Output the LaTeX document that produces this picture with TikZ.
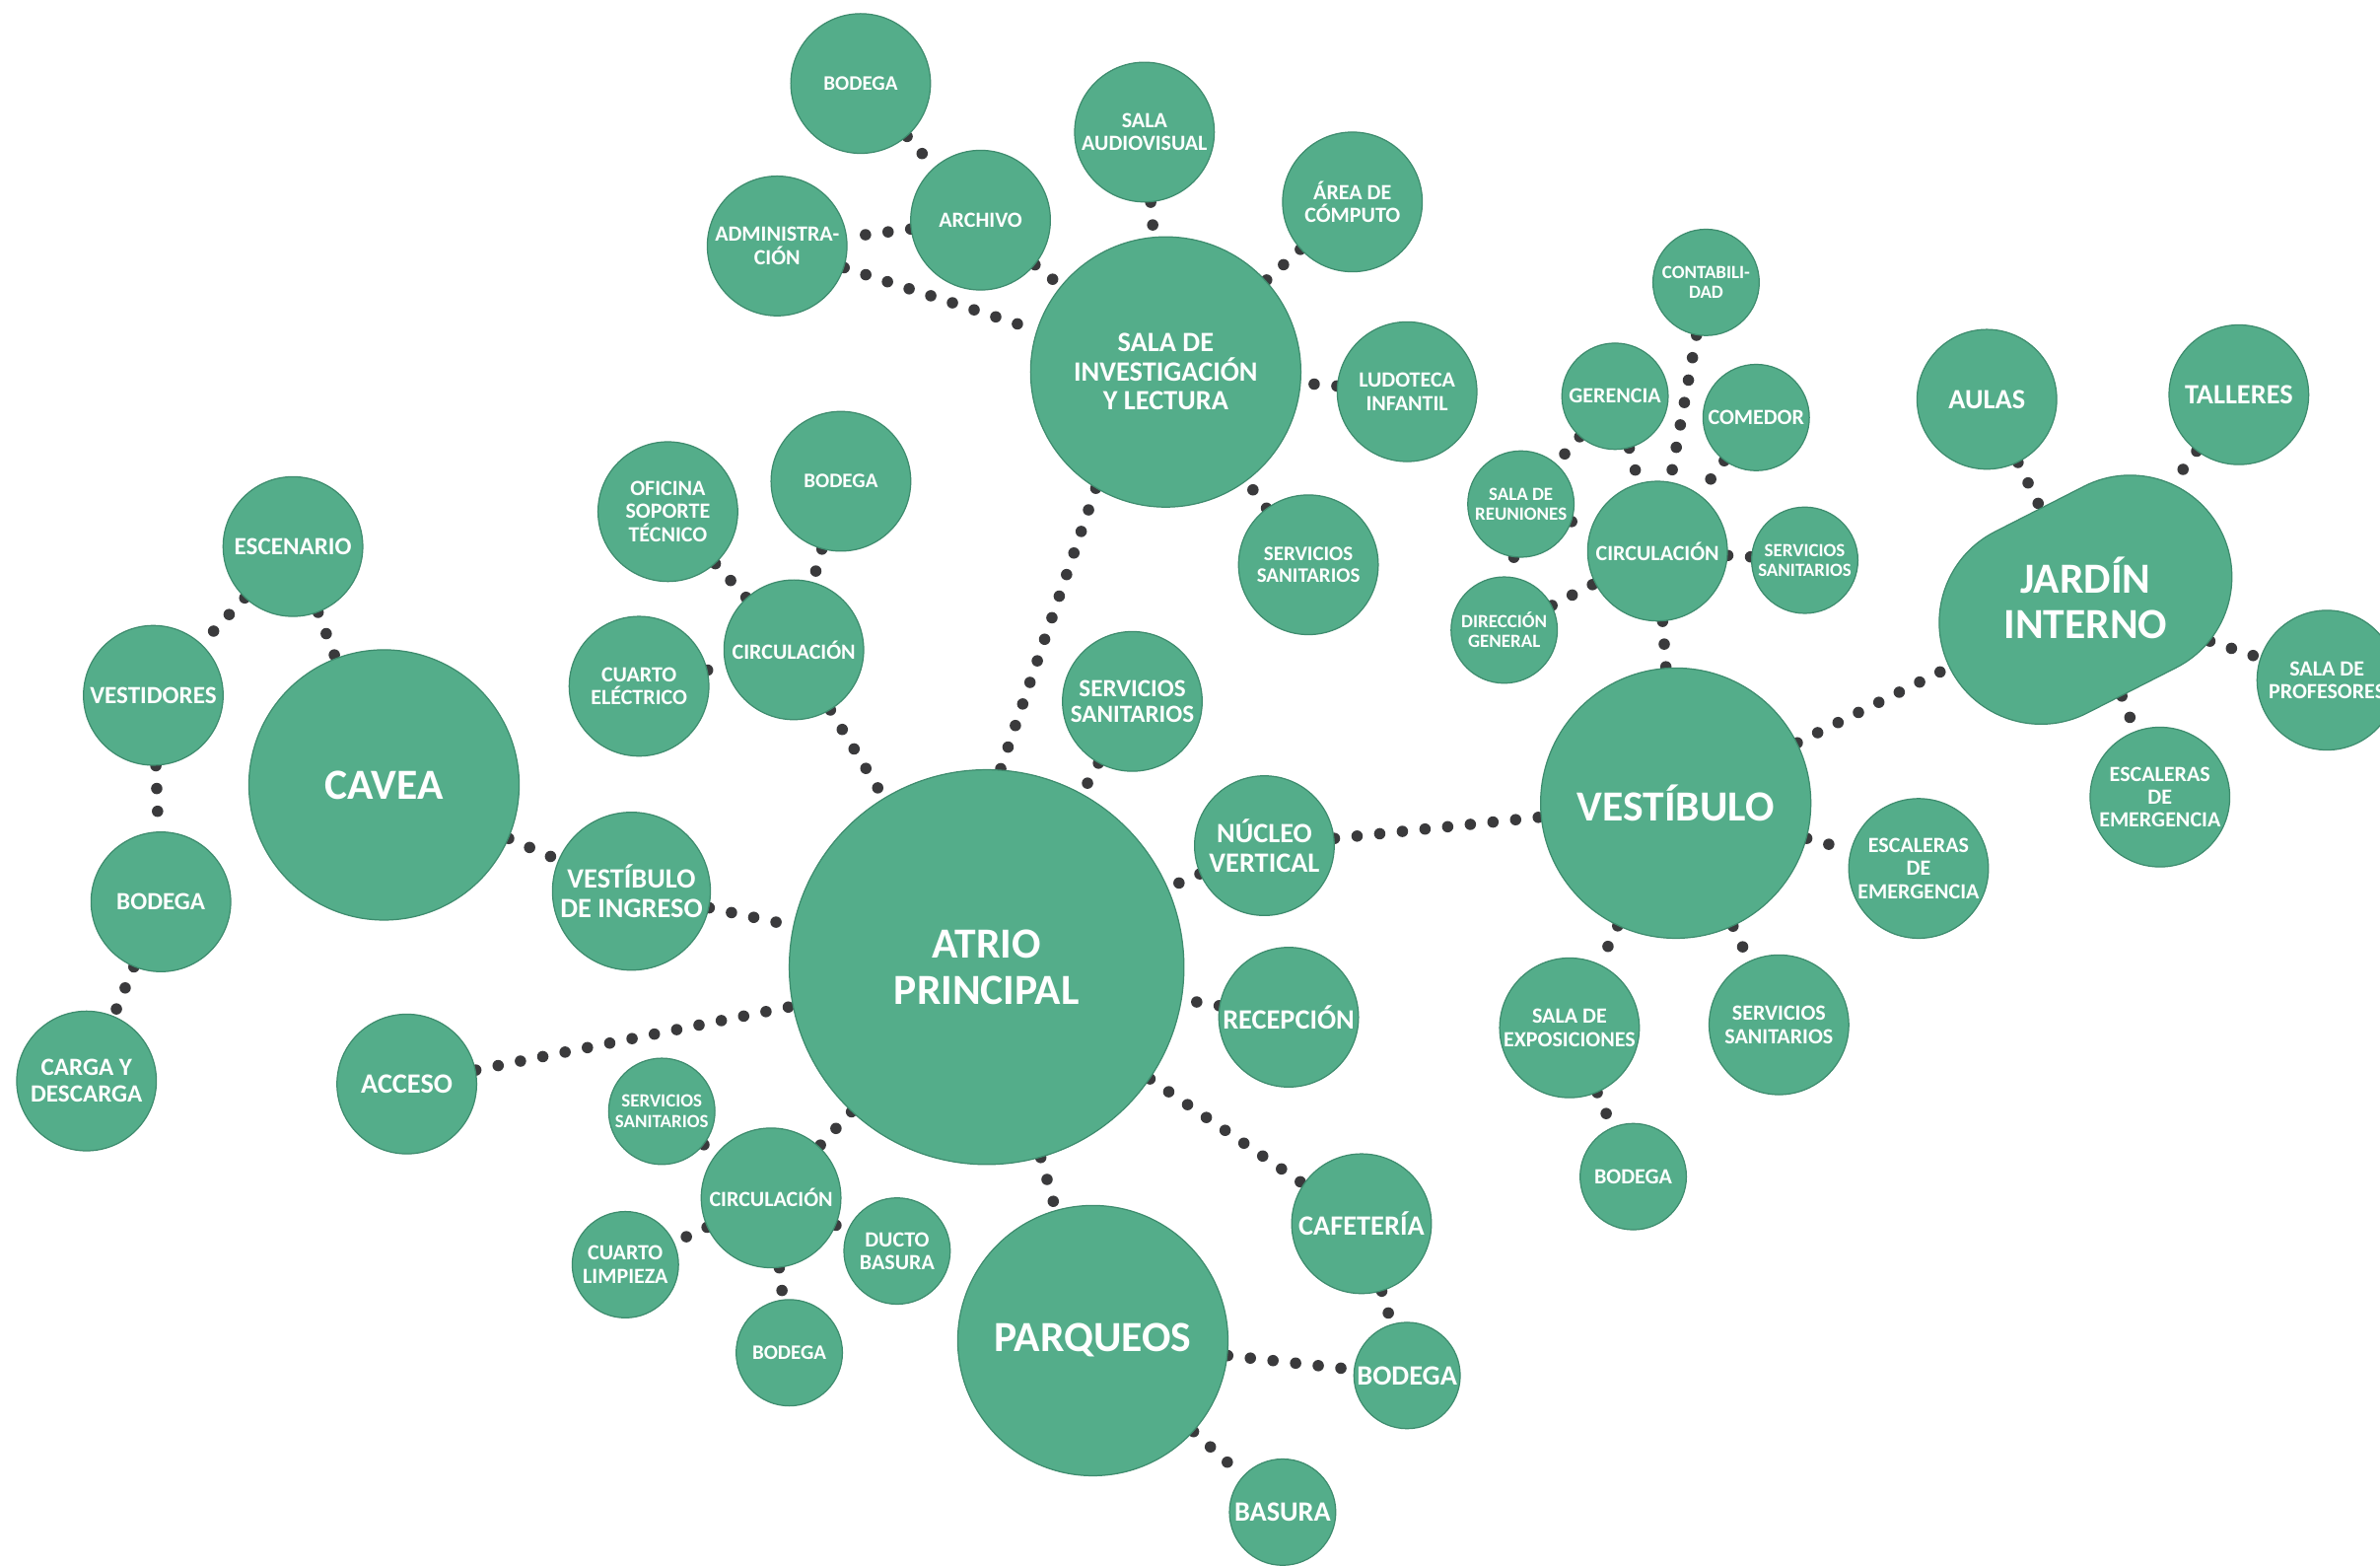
\documentclass[tikz,border=0pt]{standalone}
\usepackage{fontspec}
\setmainfont{Carlito}
\usetikzlibrary{shapes.misc,backgrounds}
\definecolor{bubfill}{RGB}{84,173,138}
\definecolor{bubedge}{RGB}{62,140,110}
\definecolor{dotc}{RGB}{58,58,60}
\tikzset{
  bub/.style={circle, fill=bubfill, draw=bubedge, line width=0.8pt, text=white, align=center, inner sep=0pt},
  rA/.style={bub, minimum size=70pt},
  rB/.style={bub, minimum size=92pt},
  rC/.style={bub, minimum size=104pt},
  rD/.style={bub, minimum size=178pt},
  rE/.style={bub, minimum size=260pt},
  fa/.style={font=\fontsize{12.3}{13.2}\selectfont\bfseries},
  fb/.style={font=\fontsize{13.6}{14.8}\selectfont\bfseries},
  fc/.style={font=\fontsize{14.3}{15.2}\selectfont\bfseries},
  fd/.style={font=\fontsize{16.3}{17.4}\selectfont\bfseries},
  fe/.style={font=\fontsize{18.4}{19.2}\selectfont\bfseries},
  ff/.style={font=\fontsize{28.3}{30}\selectfont\bfseries},
  link/.style={draw=dotc, line width=7.5pt, line cap=round, dash pattern=on 0pt off 15pt},
}
\begin{document}
\begin{tikzpicture}[x=1pt,y=-1pt]
\useasboundingbox (0,0) rectangle (1568,1031);
\clip (0,0) rectangle (1568,1031);
% upper cluster
\node[rB,fb] (bodA) at (567,55) {BODEGA};
\node[rB,fc] (aud) at (754,87) {SALA\\AUDIOVISUAL};
\node[rB,fc] (comp) at (891,133) {ÁREA DE\\CÓMPUTO};
\node[rB,fc] (arch) at (646,145) {ARCHIVO};
\node[rB,fc] (adm) at (512,162) {ADMINISTRA-\\CIÓN};
\node[rD,fe] (sala) at (768,245) {SALA DE\\INVESTIGACIÓN\\Y LECTURA};
\node[rB,fc] (ludo) at (927,258) {LUDOTECA\\INFANTIL};
\node[rB,fb] (ssA) at (862,372) {SERVICIOS\\SANITARIOS};
% left-middle cluster
\node[rB,fc] (ofi) at (440,337) {OFICINA\\SOPORTE\\TÉCNICO};
\node[rB,fb] (bodB) at (554,317) {BODEGA};
\node[rB,fc] (circA) at (523,428) {CIRCULACIÓN};
\node[rB,fc] (elec) at (421,452) {CUARTO\\ELÉCTRICO};
% cavea cluster
\node[rB,fd] (esc) at (193,360) {ESCENARIO};
\node[rB,fd] (vest) at (101,458) {VESTIDORES};
\node[rD,ff] (cavea) at (253,517) {CAVEA};
\node[rB,fd] (bodC) at (106,594) {BODEGA};
\node[rB,fd] (carga) at (57,712) {CARGA Y\\DESCARGA};
\node[rC,fe] (vding) at (416,587) {VESTÍBULO\\DE INGRESO};
\node[rB,fe] (acc) at (268,714) {ACCESO};
% atrio
\node[rE,ff, text depth=-8pt] (atrio) at (650,637) {ATRIO\\PRINCIPAL};
\node[rB,fd] (ssB) at (746,462) {SERVICIOS\\SANITARIOS};
\node[rB,fe] (nuc) at (833,557) {NÚCLEO\\VERTICAL};
\node[rB,fe] (rec) at (849,670) {RECEPCIÓN};
\node[rB,fe] (caf) at (897,806) {CAFETERÍA};
\node[rA,fe] (bodD) at (927,906) {BODEGA};
\node[rD,ff] (parq) at (720,883) {PARQUEOS};
\node[rA,fe] (bas) at (845,996) {BASURA};
\node[rA,fa] (ssC) at (436,732) {SERVICIOS\\SANITARIOS};
\node[rB,fc] (circB) at (508,789) {CIRCULACIÓN};
\node[rA,fc] (ducto) at (591,824) {DUCTO\\BASURA};
\node[rA,fc] (limp) at (412,833) {CUARTO\\LIMPIEZA};
\node[rA,fb] (bodE) at (520,891) {BODEGA};
% right-upper cluster
\node[rA,fa] (cont) at (1124,186) {CONTABILI-\\DAD};
\node[rA,fc] (ger) at (1064,261) {GERENCIA};
\node[rA,fc] (com) at (1157,275) {COMEDOR};
\node[rA,fa] (reun) at (1002,332) {SALA DE\\REUNIONES};
\node[rB,fc] (circC) at (1092,363) {CIRCULACIÓN};
\node[rA,fa] (ssD) at (1189,369) {SERVICIOS\\SANITARIOS};
\node[rA,fa] (dir) at (991,415) {DIRECCIÓN\\GENERAL};
% vestibulo cluster
\node[rD,ff] (vesti) at (1104,529) {VESTÍBULO};
\node[rB,fc] (escA) at (1264,572) {ESCALERAS\\DE\\EMERGENCIA};
\node[rB,fc] (expo) at (1034,677) {SALA DE\\EXPOSICIONES};
\node[rB,fc] (ssE) at (1172,675) {SERVICIOS\\SANITARIOS};
\node[rA,fc] (bodF) at (1076,775) {BODEGA};
% jardin cluster
\node[rB,fe] (aulas) at (1309,263) {AULAS};
\node[rB,fe] (tall) at (1475,260) {TALLERES};
\node[rounded rectangle, fill=bubfill, draw=bubedge, line width=0.8pt, inner sep=0pt,
      minimum width=200pt, minimum height=134pt, rotate=27] (jardinshape) at (1374,395) {};
\node[text=white, align=center, ff] (jardin) at (1374,394) {JARDÍN\\INTERNO};
\node[rB,fc] (prof) at (1533,448) {SALA DE\\PROFESORES};
\node[rB,fc] (escB) at (1423,525) {ESCALERAS\\DE\\EMERGENCIA};
\begin{pgfonlayer}{background}
\fill[white] (0,0) rectangle (1568,1031);
\path[link] (bodA) -- (arch);
\path[link] (arch) -- (adm);
\path[link] (adm) -- (sala);
\path[link] (arch) -- (sala);
\path[link] (aud) -- (sala);
\path[link] (comp) -- (sala);
\path[link] (ludo) -- (sala);
\path[link] (ssA) -- (sala);
\path[link] (sala.239) -- (atrio.86);
\path[link] (ofi) -- (circA);
\path[link] (bodB) -- (circA);
\path[link] (elec) -- (circA);
\path[link] (circA) -- (atrio);
\path[link] (esc) -- (vest);
\path[link] (esc) -- (cavea);
\path[link] (vest) -- (bodC);
\path[link] (bodC) -- (carga);
\path[link] (cavea) -- (vding);
\path[link] (vding) -- (atrio);
\path[link] (acc) -- (atrio);
\path[link] (ssB) -- (atrio);
\path[link] (nuc) -- (atrio);
\path[link] (nuc) -- (vesti);
\path[link] (rec) -- (atrio);
\path[link] (atrio) -- (caf);
\path[link] (atrio) -- (parq);
\path[link] (atrio) -- (circB);
\path[link] (caf) -- (bodD);
\path[link] (parq) -- (bodD);
\path[link] (parq) -- (bas);
\path[link] (ssC) -- (circB);
\path[link] (circB) -- (limp);
\path[link] (circB) -- (bodE);
\path[link] (circB) -- (ducto);
\path[link] (cont) -- (circC);
\path[link] (ger) -- (circC);
\path[link] (com) -- (circC);
\path[link] (ger) -- (reun);
\path[link] (reun) -- (circC);
\path[link] (reun) -- (dir);
\path[link] (dir) -- (circC);
\path[link] (circC) -- (ssD);
\path[link] (circC) -- (vesti);
\path[link] (vesti) -- (jardinshape);
\path[link] (vesti) -- (escA);
\path[link] (vesti) -- (expo);
\path[link] (vesti) -- (ssE);
\path[link] (expo) -- (bodF);
\path[link] (aulas) -- (jardinshape);
\path[link] (tall) -- (jardinshape);
\path[link] (jardinshape) -- (prof);
\path[link] (jardinshape) -- (escB);
\end{pgfonlayer}
\end{tikzpicture}
\end{document}
